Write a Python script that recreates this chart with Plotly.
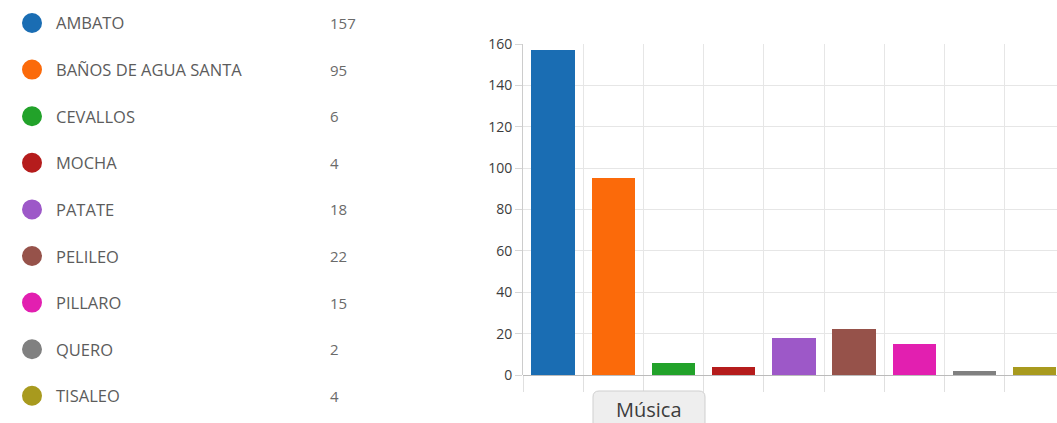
import plotly.graph_objects as go

# Cantones and their counts
cantones = ["AMBATO", "BAÑOS DE AGUA SANTA", "CEVALLOS", "MOCHA", "PATATE",
            "PELILEO", "PILLARO", "QUERO", "TISALEO"]
valores = [157, 95, 6, 4, 18, 22, 15, 2, 4]
colores = ["#1a6db3", "#fb6a0a", "#22a22a", "#b51c1c", "#9d58c8",
           "#96524a", "#e21fb0", "#808080", "#a89a1e"]
categoria = "Música"
y_ticks = [0, 20, 40, 60, 80, 100, 120, 140, 160]

W, H = 1057, 423
PLOT_TOP, PLOT_BOTTOM = 44, 375
PLOT_LEFT = 523


def px(x):
    return x / W


def py(y):
    return (PLOT_BOTTOM - y) / (PLOT_BOTTOM - PLOT_TOP)


fig = go.Figure()
fig.add_trace(go.Bar(
    x=list(range(len(cantones))),
    y=valores,
    width=0.72,
    marker=dict(color=colores, line=dict(width=0)),
    hovertext=cantones,
    showlegend=False,
))

shapes = []
annotations = []

# Left-hand list: colour dot, canton name, count
row0, row_step = 23, 46.6
for i, (name, val, col) in enumerate(zip(cantones, valores, colores)):
    cy = row0 + i * row_step
    r = 10
    shapes.append(dict(type="circle", xref="paper", yref="paper",
                       x0=px(32 - r), x1=px(32 + r), y0=py(cy + r), y1=py(cy - r),
                       fillcolor=col, line=dict(width=0)))
    annotations.append(dict(xref="paper", yref="paper", x=px(54), y=py(cy),
                            text=name, showarrow=False, xanchor="left", yanchor="middle",
                            font=dict(family="Open Sans", size=16.5, color="#5c5c5c")))
    annotations.append(dict(xref="paper", yref="paper", x=px(328), y=py(cy),
                            text=str(val), showarrow=False, xanchor="left", yanchor="middle",
                            font=dict(family="Open Sans", size=15, color="#6a6a6a")))

# Category tab under the bars
bx0, bx1, by0, by1, rad = 593, 705, 391, 440, 6
path = (f"M {px(bx0)} {py(by1)} L {px(bx0)} {py(by0 + rad)} "
        f"Q {px(bx0)} {py(by0)} {px(bx0 + rad)} {py(by0)} "
        f"L {px(bx1 - rad)} {py(by0)} Q {px(bx1)} {py(by0)} {px(bx1)} {py(by0 + rad)} "
        f"L {px(bx1)} {py(by1)} Z")
shapes.append(dict(type="path", xref="paper", yref="paper", path=path,
                   fillcolor="#eeeeee", line=dict(color="#cfcfcf", width=1)))
annotations.append(dict(xref="paper", yref="paper", x=px(649), y=py(410),
                        text=categoria, showarrow=False, xanchor="center", yanchor="middle",
                        font=dict(family="Open Sans", size=20, color="#3c3c3c")))

n = len(cantones)
fig.update_layout(
    width=W, height=H,
    margin=dict(l=0, r=0, t=PLOT_TOP, b=H - PLOT_BOTTOM, pad=0),
    paper_bgcolor="white", plot_bgcolor="white",
    shapes=shapes, annotations=annotations,
    bargap=0,
    xaxis=dict(
        domain=[PLOT_LEFT / W, 1],
        range=[-0.5, 8.37],
        tickmode="array",
        tickvals=[i - 0.5 for i in range(n + 1)],
        showticklabels=False,
        showgrid=True, gridcolor="#e6e6e6", gridwidth=1,
        ticks="outside", ticklen=16, tickcolor="#e0e0e0",
        showline=False, zeroline=False,
    ),
    yaxis=dict(
        range=[0, 160],
        tickmode="array", tickvals=y_ticks,
        showgrid=True, gridcolor="#e6e6e6", gridwidth=1,
        ticks="outside", ticklen=7, tickcolor="#d6d6d6",
        tickfont=dict(family="Open Sans", size=14, color="#3c3c3c"),
        showline=True, linecolor="#cccccc", linewidth=1,
        zeroline=True, zerolinecolor="#bbbbbb", zerolinewidth=1,
    ),
)

fig.write_html("out.html")
